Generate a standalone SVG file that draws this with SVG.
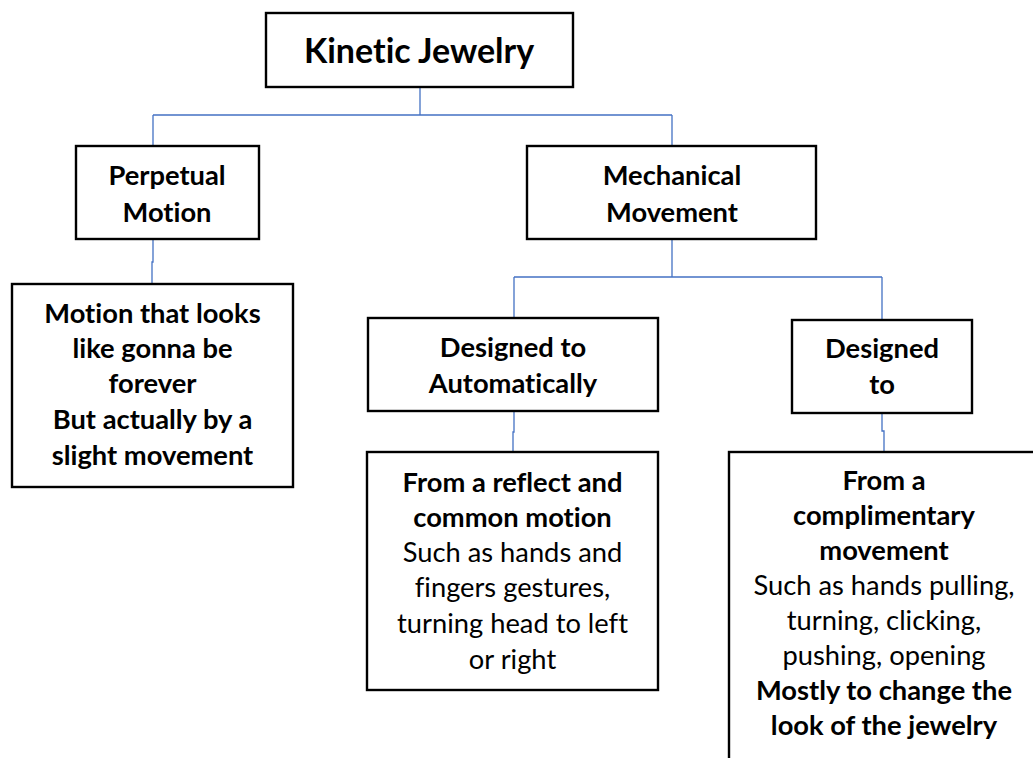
<svg xmlns="http://www.w3.org/2000/svg" width="1033" height="758" viewBox="0 0 1033 758">
<style>
.box{fill:#fff;stroke:#000;stroke-width:2.4}
.t{font-family:Lato,"Liberation Sans",sans-serif;font-size:27.3px;fill:#000;text-anchor:middle;font-variant-ligatures:none}
.b{font-weight:bold}
.title{font-family:Lato,"Liberation Sans",sans-serif;font-size:34px;font-weight:bold;fill:#000;text-anchor:middle;font-variant-ligatures:none}
.c{fill:none;stroke:#4472C4;stroke-width:1.3}
</style>
<rect width="1033" height="758" fill="#fff"/>
<g id="connectors">
<path class="c" d="M420 87V115M153 115H672M153 115V146M672 115V146"/>
<path class="c" d="M153 239V262H152V284"/>
<path class="c" d="M672 239V277M514 277H882M514 277V318M882 277V320"/>
<path class="c" d="M514 411V432H513V452"/>
<path class="c" d="M882 413V431H884V452"/>
</g>
<g id="kinetic">
<rect class="box" x="266" y="13" width="307" height="74"/>
<text class="title" x="419" y="63">Kinetic Jewelry</text>
</g>
<g id="perpetual">
<rect class="box" x="76" y="146" width="183" height="93"/>
<text class="t b" x="167" y="185">Perpetual</text>
<text class="t b" x="167" y="222">Motion</text>
</g>
<g id="mechanical">
<rect class="box" x="527" y="146" width="289" height="93"/>
<text class="t b" x="672" y="185">Mechanical</text>
<text class="t b" x="672" y="222">Movement</text>
</g>
<g id="perpetual-desc">
<rect class="box" x="12" y="284" width="281" height="203"/>
<text class="t b" x="152.5" y="323">Motion that looks</text>
<text class="t b" x="152.5" y="358">like gonna be</text>
<text class="t b" x="152.5" y="393">forever</text>
<text class="t b" x="152.5" y="429">But actually by a</text>
<text class="t b" x="152.5" y="465">slight movement</text>
</g>
<g id="automatic">
<rect class="box" x="368" y="318" width="290" height="93"/>
<text class="t b" x="513" y="357">Designed to</text>
<text class="t b" x="513" y="393">Automatically</text>
</g>
<g id="designed">
<rect class="box" x="792" y="320" width="180" height="93"/>
<text class="t b" x="882" y="358">Designed</text>
<text class="t b" x="882" y="394">to</text>
</g>
<g id="automatic-desc">
<rect class="box" x="367" y="452" width="291" height="238"/>
<text class="t b" x="512.5" y="492">From a reflect and</text>
<text class="t b" x="512.5" y="527">common motion</text>
<text class="t" x="512.5" y="562">Such as hands and</text>
<text class="t" x="512.5" y="597">fingers gestures,</text>
<text class="t" x="512.5" y="633">turning head to left</text>
<text class="t" x="512.5" y="669">or right</text>
</g>
<g id="designed-desc">
<rect class="box" x="729" y="452" width="400" height="400"/>
<text class="t b" x="884" y="490">From a</text>
<text class="t b" x="884" y="525">complimentary</text>
<text class="t b" x="884" y="560">movement</text>
<text class="t" x="884" y="595">Such as hands pulling,</text>
<text class="t" x="884" y="630">turning, clicking,</text>
<text class="t" x="884" y="665">pushing, opening</text>
<text class="t b" x="884" y="700">Mostly to change the</text>
<text class="t b" x="884" y="735">look of the jewelry</text>
</g>
</svg>
